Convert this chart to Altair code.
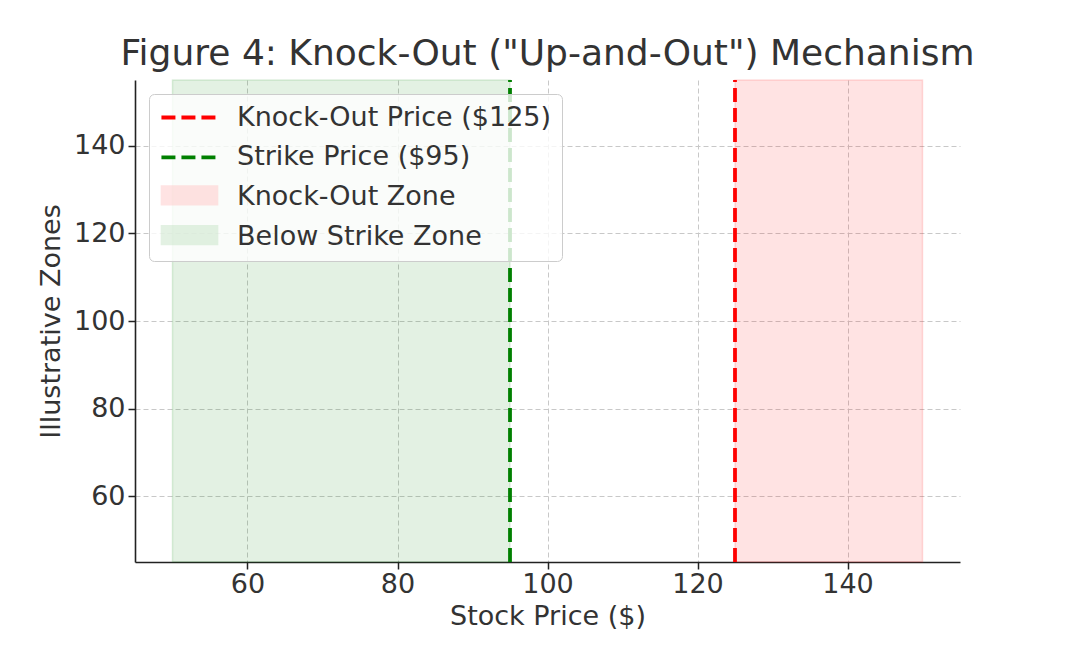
import altair as alt
import pandas as pd

# ---- data ----
line_names = ["Knock-Out Price ($125)", "Strike Price ($95)"]
line_prices = [125, 95]
line_colors = ["red", "green"]
zone_names = ["Knock-Out Zone", "Below Strike Zone"]
zone_starts = [125, 50]
zone_ends = [150, 95]
zone_colors = ["red", "green"]
x_domain = [45, 155]
y_domain = [45, 155]
ticks = [60, 80, 100, 120, 140]

lines_df = pd.DataFrame({"name": line_names, "price": line_prices})
zones_df = pd.DataFrame({"zone": zone_names, "start": zone_starts, "end": zone_ends})

FONT = "DejaVu Sans"
TXT = "#333333"
W, H = 825, 482
FS = 27

LEG_X, LEG_Y, LEG_PAD = 14, 14, 10
ROW_H, ROW_PAD = FS, 11.9

common_leg = dict(
    title=None,
    orient="none",
    legendX=LEG_X,
    labelFont=FONT,
    labelFontSize=FS,
    labelOffset=34,
    labelLimit=400,
    symbolSize=350,
    symbolOffset=17,
    rowPadding=ROW_PAD,
    padding=LEG_PAD,
)

# Legend with frame and all four labels (line symbols only)
line_legend = alt.Legend(
    legendY=LEG_Y,
    labelColor=TXT,
    symbolType="M-3,0H3",
    symbolDash=[14, 6],
    symbolStrokeWidth=3.8,
    fillColor="rgba(255,255,255,0.8)",
    strokeColor="#cccccc",
    cornerRadius=5,
    **common_leg,
)

# Symbols for the two zone rows, laid over rows 3 and 4
zone_legend = alt.Legend(
    legendY=LEG_Y + 2 * (ROW_H + ROW_PAD),
    labelColor="transparent",
    symbolType="M-3,-1H3V1H-3Z",
    symbolStrokeWidth=1.5,
    symbolOpacity=0.55,
    **common_leg,
)

line_scale = alt.Scale(
    domain=line_names + zone_names,
    range=line_colors + ["transparent", "transparent"],
)
zone_scale = alt.Scale(domain=zone_names, range=zone_colors)

x_enc = alt.X(
    "start:Q",
    scale=alt.Scale(domain=x_domain, nice=False, zero=False),
    axis=alt.Axis(values=ticks, title="Stock Price ($)"),
)

zones = alt.Chart(zones_df).mark_rect(
    fillOpacity=0.11, strokeOpacity=0.13, strokeWidth=1.5
).encode(
    x=x_enc,
    x2="end:Q",
    y=alt.Y(
        datum=y_domain[1],
        type="quantitative",
        scale=alt.Scale(domain=y_domain, nice=False, zero=False),
        axis=alt.Axis(values=ticks, title="Illustrative Zones"),
    ),
    y2=alt.datum(y_domain[0]),
    fill=alt.Fill("zone:N", scale=zone_scale, legend=zone_legend),
    stroke=alt.Stroke("zone:N", scale=zone_scale, legend=None),
)

rules = alt.Chart(lines_df).mark_rule(strokeWidth=3.8, strokeDash=[14, 6]).encode(
    x=alt.X("price:Q"),
    y=alt.datum(y_domain[0]),
    y2=alt.datum(y_domain[1]),
    color=alt.Color("name:N", scale=line_scale, legend=line_legend),
)

chart = (
    alt.layer(zones, rules)
    .resolve_scale(color="independent")
    .properties(
        width=W,
        height=H,
        autosize=alt.AutoSizeParams(type="none"),
        padding={"left": 127, "top": 72, "right": 100, "bottom": 70},
        title=alt.TitleParams(
            'Figure 4: Knock-Out ("Up-and-Out") Mechanism',
            font=FONT,
            fontSize=36,
            fontWeight="normal",
            color=TXT,
            offset=5,
            anchor="middle",
        ),
    )
    .configure_view(stroke=None)
    .configure_axis(
        labelFont=FONT,
        labelFontSize=FS,
        labelColor=TXT,
        titleFont=FONT,
        titleFontSize=FS,
        titleFontWeight="normal",
        titleColor=TXT,
        domainColor="#222222",
        domainWidth=1.6,
        tickColor="#222222",
        tickWidth=1.5,
        tickSize=7,
        labelPadding=3,
        grid=True,
        gridColor="#c8c8c8",
        gridDash=[5, 3],
        gridWidth=1,
    )
    .configure_axisX(titlePadding=6, labelPadding=2)
    .configure_axisY(titlePadding=8)
)

chart.save("out.html", embed_options={"renderer": "svg", "actions": False})
